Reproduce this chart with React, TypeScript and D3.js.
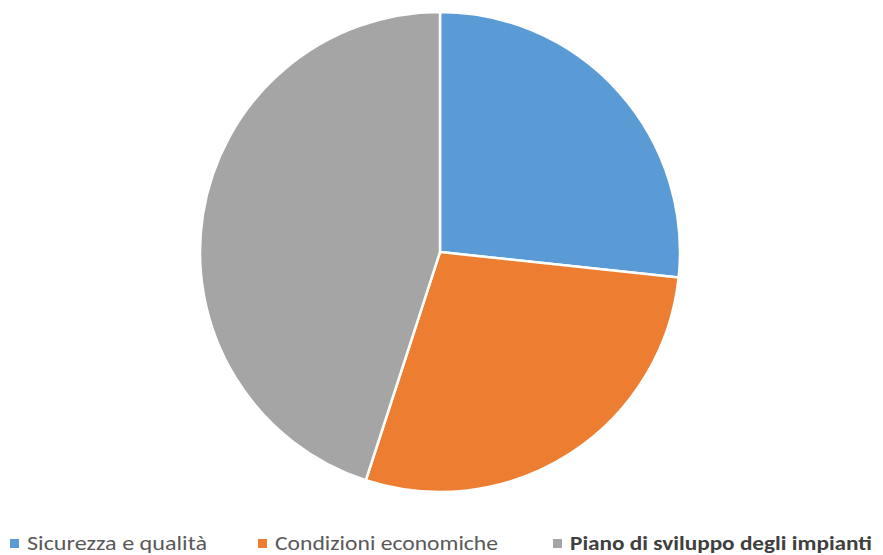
import React, { useEffect, useRef } from 'react';
import * as d3 from 'd3';

const categories = ['Sicurezza e qualità', 'Condizioni economiche', 'Piano di sviluppo degli impianti'];
const values = [26.7, 28.3, 45.0];
const colors = ['#5B9BD5', '#ED7D31', '#A5A5A5'];

const App = () => {
  const ref = useRef<SVGSVGElement>(null);

  useEffect(() => {
    const svg = d3.select(ref.current);
    svg.selectAll('*').remove();

    const cx = 440;
    const cy = 252;
    const radius = 240;

    const pie = d3.pie<number>().sort(null).value(d => d);
    const arc = d3.arc<d3.PieArcDatum<number>>().innerRadius(0).outerRadius(radius);

    const g = svg.append('g').attr('transform', `translate(${cx},${cy})`);
    g.selectAll('path')
      .data(pie(values))
      .join('path')
      .attr('d', arc)
      .attr('fill', (_, i) => colors[i])
      .attr('stroke', '#fff')
      .attr('stroke-width', 2.5)
      .attr('stroke-linejoin', 'round');

    // legend
    const legendX = [10, 258, 553];
    const textLen = [180, 223, 302];
    const legend = svg.append('g');
    categories.forEach((c, i) => {
      legend.append('rect')
        .attr('x', legendX[i])
        .attr('y', 539)
        .attr('width', 9)
        .attr('height', 9)
        .attr('fill', colors[i]);
      legend.append('text')
        .attr('x', legendX[i] + 17)
        .attr('y', 550)
        .attr('font-family', 'Carlito, "Liberation Sans Narrow", "Open Sans", sans-serif')
        .attr('font-size', 20)
        .attr('font-weight', i === 2 ? 'bold' : 'normal')
        .attr('fill', i === 2 ? '#404040' : '#595959')
        .attr('textLength', textLen[i])
        .attr('lengthAdjust', 'spacingAndGlyphs')
        .text(c);
    });
  }, []);

  return (
    <svg
      ref={ref}
      width={883}
      height={555}
      style={{ position: 'absolute', left: 0, top: 0, background: '#fff' }}
    />
  );
};

export default App;
